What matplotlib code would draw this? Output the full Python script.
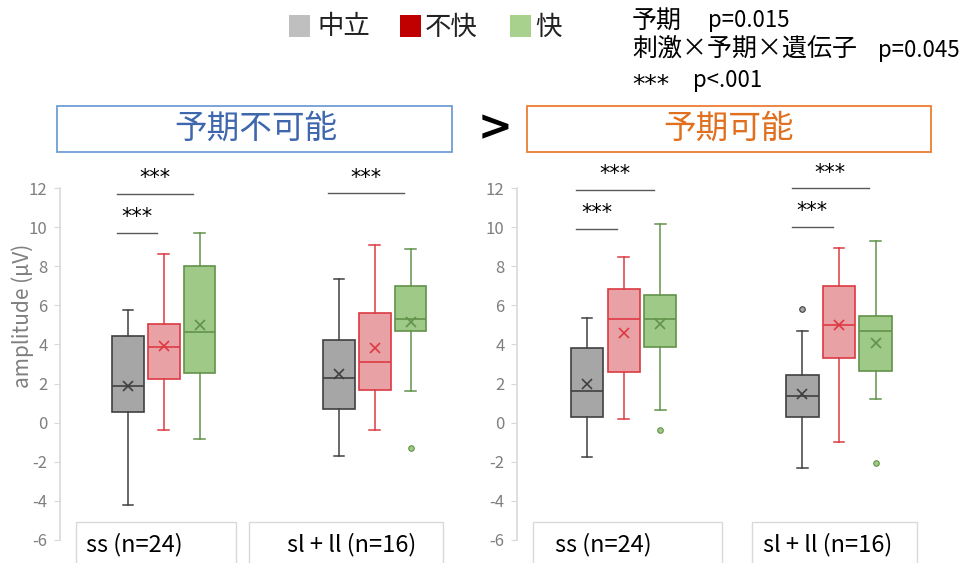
import matplotlib
matplotlib.use("Agg")
import matplotlib.pyplot as plt
from matplotlib.patches import Rectangle

plt.rcParams["font.family"] = ["Noto Sans CJK JP", "DejaVu Sans"]
plt.rcParams["axes.unicode_minus"] = False

W, H = 963, 563

# ---- data ----
CATS = ["中立", "不快", "快"]
GROUPS = ["ss (n=24)", "sl + ll (n=16)"]
PANELS = ["予期不可能", "予期可能"]

# [whislo, q1, median, q3, whishi] per category (中立, 不快, 快)
unpred_ss_box = [[-4.2, 0.53, 1.9, 4.45, 5.76],
                 [-0.36, 2.22, 3.87, 5.06, 8.6],
                 [-0.82, 2.56, 4.64, 8.03, 9.68]]
unpred_ss_mean = [1.9, 3.94, 4.98]
unpred_ss_out = [[], [], []]

unpred_sl_box = [[-1.69, 0.70, 2.27, 4.21, 7.35],
                 [-0.36, 1.69, 3.12, 5.59, 9.08],
                 [1.60, 4.70, 5.30, 6.97, 8.86]]
unpred_sl_mean = [2.49, 3.80, 5.13]
unpred_sl_out = [[], [], [-1.31]]

pred_ss_box = [[-1.74, 0.31, 1.60, 3.84, 5.35],
               [0.17, 2.61, 5.30, 6.84, 8.46],
               [0.65, 3.87, 5.30, 6.55, 10.16]]
pred_ss_mean = [1.98, 4.60, 5.03]
pred_ss_out = [[], [], [-0.36]]

pred_sl_box = [[-2.30, 0.27, 1.38, 2.42, 4.70],
               [-1.0, 3.32, 4.98, 6.97, 8.93],
               [1.23, 2.66, 4.70, 5.44, 9.30]]
pred_sl_mean = [1.45, 5.0, 4.07]
pred_sl_out = [[5.83], [], [-2.06]]

# significance bars: (group, cat_i, cat_j, y)
unpred_sig = [(0, 0, 1, 9.7), (0, 0, 2, 11.7), (1, 0, 2, 11.72)]
pred_sig = [(0, 0, 1, 9.9), (0, 0, 2, 11.9), (1, 0, 1, 10.0), (1, 0, 2, 11.98)]

YTICKS = list(range(-6, 13, 2))

FACE = ["#A6A6A6", "#E8A1A4", "#9FC986"]
EDGE = ["#404040", "#DC3A42", "#62924A"]
LEGEND_COL = ["#BFBFBF", "#C00000", "#A9D18E"]


def fx(x):
    return x / W


def fy(y):
    return 1 - y / H


fig = plt.figure(figsize=(W / 100, H / 100), dpi=100)

panels = [
    dict(boxes=[unpred_ss_box, unpred_sl_box], means=[unpred_ss_mean, unpred_sl_mean],
         outs=[unpred_ss_out, unpred_sl_out], sig=unpred_sig,
         x0=60, x1=470, c0=163.7, c1=374.7),
    dict(boxes=[pred_ss_box, pred_sl_box], means=[pred_ss_mean, pred_sl_mean],
         outs=[pred_ss_out, pred_sl_out], sig=pred_sig,
         x0=517, x1=963, c0=623.7, c1=839.0),
]

OFF = 0.17
for pi, p in enumerate(panels):
    ax = fig.add_axes([fx(p["x0"]), fy(540), fx(p["x1"] - p["x0"]), (540 - 188) / H])
    unit = p["c1"] - p["c0"]
    a = -(p["c0"] - p["x0"]) / unit
    b = a + (p["x1"] - p["x0"]) / unit
    ax.set_xlim(a, b)
    ax.set_ylim(-6, 12)

    for g in range(len(GROUPS)):
        for c in range(len(CATS)):
            lo, q1, med, q3, hi = p["boxes"][g][c]
            st = dict(whislo=lo, q1=q1, med=med, q3=q3, whishi=hi,
                      mean=p["means"][g][c], fliers=p["outs"][g][c])
            ec = EDGE[c]
            ax.bxp([st], positions=[g + (c - 1) * OFF], widths=0.15,
                   capwidths=0.05, showmeans=True, patch_artist=True,
                   boxprops=dict(facecolor=FACE[c], edgecolor=ec, linewidth=1.2),
                   medianprops=dict(color=ec, linewidth=1.2),
                   whiskerprops=dict(color=ec, linewidth=1.1),
                   capprops=dict(color=ec, linewidth=1.1),
                   meanprops=dict(marker="x", markeredgecolor=ec, markersize=7,
                                  markeredgewidth=1.2),
                   flierprops=dict(marker="o", markerfacecolor=FACE[c],
                                   markeredgecolor=ec, markersize=4,
                                   markeredgewidth=0.8))

    for g, i, j, y in p["sig"]:
        xa = g + (i - 1) * OFF - 0.05
        xb = g + (j - 1) * OFF - 0.03
        ax.plot([xa, xb], [y, y], color="#595959", lw=1, clip_on=False)
        ax.text((xa + xb) / 2, y + 0.3, "***", ha="center", va="bottom",
                fontsize=15, color="black", family="DejaVu Sans")

    for s in ["top", "right", "bottom"]:
        ax.spines[s].set_visible(False)
    ax.spines["left"].set_color("#D9D9D9")
    ax.spines["left"].set_linewidth(1.2)
    ax.set_xticks([])
    ax.set_yticks(YTICKS)
    ax.tick_params(axis="y", colors="#D9D9D9", labelcolor="#7F7F7F",
                   labelsize=12, length=4, pad=5)
    if pi == 0:
        ax.set_ylabel("amplitude (µV)", color="#7F7F7F", fontsize=15)
        ax.yaxis.set_label_coords((34 - 60) / 410, (540 - 316) / 352)

# group label boxes at the bottom: (left, right, text x)
label_boxes = [(76, 236, 86), (249, 443, 287), (533, 722, 555), (752, 917, 763)]
for k, (l, r, tx) in enumerate(label_boxes):
    fig.add_artist(Rectangle((fx(l), fy(570)), fx(r - l), (570 - 522) / H,
                             transform=fig.transFigure, facecolor="white",
                             edgecolor="#D9D9D9", lw=1))
    fig.text(fx(tx), fy(545), GROUPS[k % 2], ha="left", va="center",
             fontsize=17, color="black")

# header boxes
fig.add_artist(Rectangle((fx(57), fy(152)), fx(452 - 57), (152 - 106) / H,
                         transform=fig.transFigure, facecolor="white",
                         edgecolor="#6F9ED6", lw=1.3))
fig.text(fx(256), fy(129), PANELS[0], ha="center", va="center",
         fontsize=23.5, color="#3F67AE")
fig.add_artist(Rectangle((fx(527), fy(152)), fx(931 - 527), (152 - 106) / H,
                         transform=fig.transFigure, facecolor="white",
                         edgecolor="#ED7D31", lw=1.3))
fig.text(fx(729), fy(129), PANELS[1], ha="center", va="center",
         fontsize=23.5, color="#E0701F")
fig.text(fx(495), fy(128), ">", ha="center", va="center", fontsize=30,
         fontweight="bold", color="black", family="DejaVu Sans")

# legend
leg_x = [(289, 317), (400, 425), (510, 535)]
for c, (sx, tx) in enumerate(leg_x):
    fig.add_artist(Rectangle((fx(sx), fy(37)), fx(21), 22 / H,
                             transform=fig.transFigure, facecolor=LEGEND_COL[c],
                             edgecolor="none"))
    fig.text(fx(tx), fy(27), CATS[c], ha="left", va="center", fontsize=19,
             color="#222222")

# statistics note
fig.text(fx(632), fy(21), "予期", ha="left", va="center", fontsize=18)
fig.text(fx(708), fy(21), "p=0.015", ha="left", va="center", fontsize=16)
fig.text(fx(632), fy(50), "刺激×予期×遺伝子", ha="left", va="center", fontsize=18)
fig.text(fx(878), fy(50), "p=0.045", ha="left", va="center", fontsize=16)
fig.text(fx(632), fy(85), "***", ha="left", va="center", fontsize=18,
         family="DejaVu Sans")
fig.text(fx(693), fy(81), "p<.001", ha="left", va="center", fontsize=16)

fig.savefig("out.png", dpi=100)
